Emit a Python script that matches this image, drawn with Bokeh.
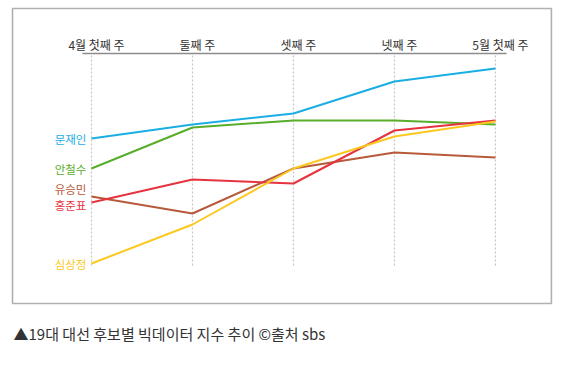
from bokeh.plotting import figure
from bokeh.models import Range1d
from bokeh.core.properties import value
from bokeh.embed import file_html
from bokeh.resources import INLINE

# ---- data (index values) ----
weeks = ["4월 첫째 주", "둘째 주", "셋째 주", "넷째 주", "5월 첫째 주"]
candidates = ["문재인", "안철수", "유승민", "홍준표", "심상정"]
moon = [165, 179, 190, 222, 235]
ahn = [135, 176, 183, 183, 179]
yoo = [107, 90, 135, 151, 146]
hong = [101, 124, 120, 173, 183]
sim = [40, 79, 135, 167, 182]
label_levels = [165, 135, 115, 99, 40]
caption = "▲19대 대선 후보별 빅데이터 지수 추이 ©출처 sbs"

series = [moon, ahn, yoo, hong, sim]
colors = ["#1aaee3", "#58ad2a", "#b85a3a", "#e5333f", "#fcc820"]
FONT = value("Noto Sans CJK KR")

W, H = 560, 365
xs = list(range(len(weeks)))

p = figure(width=W, height=H, output_backend="svg", toolbar_location=None,
           x_range=Range1d(-0.901, 4.644), y_range=Range1d(-62, 303),
           min_border=0, min_border_left=0, min_border_right=0,
           min_border_top=0, min_border_bottom=0)
p.axis.visible = False
p.grid.visible = False
p.outline_line_color = None
p.background_fill_color = "white"
p.border_fill_color = "white"

# outer box
p.quad(left=-0.782, right=4.554, bottom=0, top=295, fill_color=None,
       line_color="#b0b0b0", line_width=1.6)

# vertical dotted guide lines
p.segment(x0=xs, x1=xs, y0=[38] * len(xs), y1=[250] * len(xs),
          line_color="#c4c4c4", line_width=1.2, line_dash="2 2")

# top axis line
p.segment(x0=[-0.09], x1=[4.11], y0=[250], y1=[250], line_color="#8c8c8c", line_width=1.5)

# week labels
p.text(x=xs, y=[259] * len(xs), text=weeks, text_font=FONT, text_font_size="12px",
       text_color="#333333", text_align="center", text_baseline="middle", x_offset=5)

# lines
for vals, c in zip(series, colors):
    p.line(xs, vals, line_color=c, line_width=2)

# candidate labels
p.text(x=[-0.05] * len(candidates), y=label_levels, text=candidates, text_font=FONT,
       text_font_size="11.5px", text_color=colors, text_align="right",
       text_baseline="middle")

# caption
p.text(x=[-0.772], y=[-30], text=[caption], text_font=FONT, text_font_size="15px",
       text_color="#333333", text_align="left", text_baseline="middle")

open("out.html", "w").write(file_html(p, INLINE))
